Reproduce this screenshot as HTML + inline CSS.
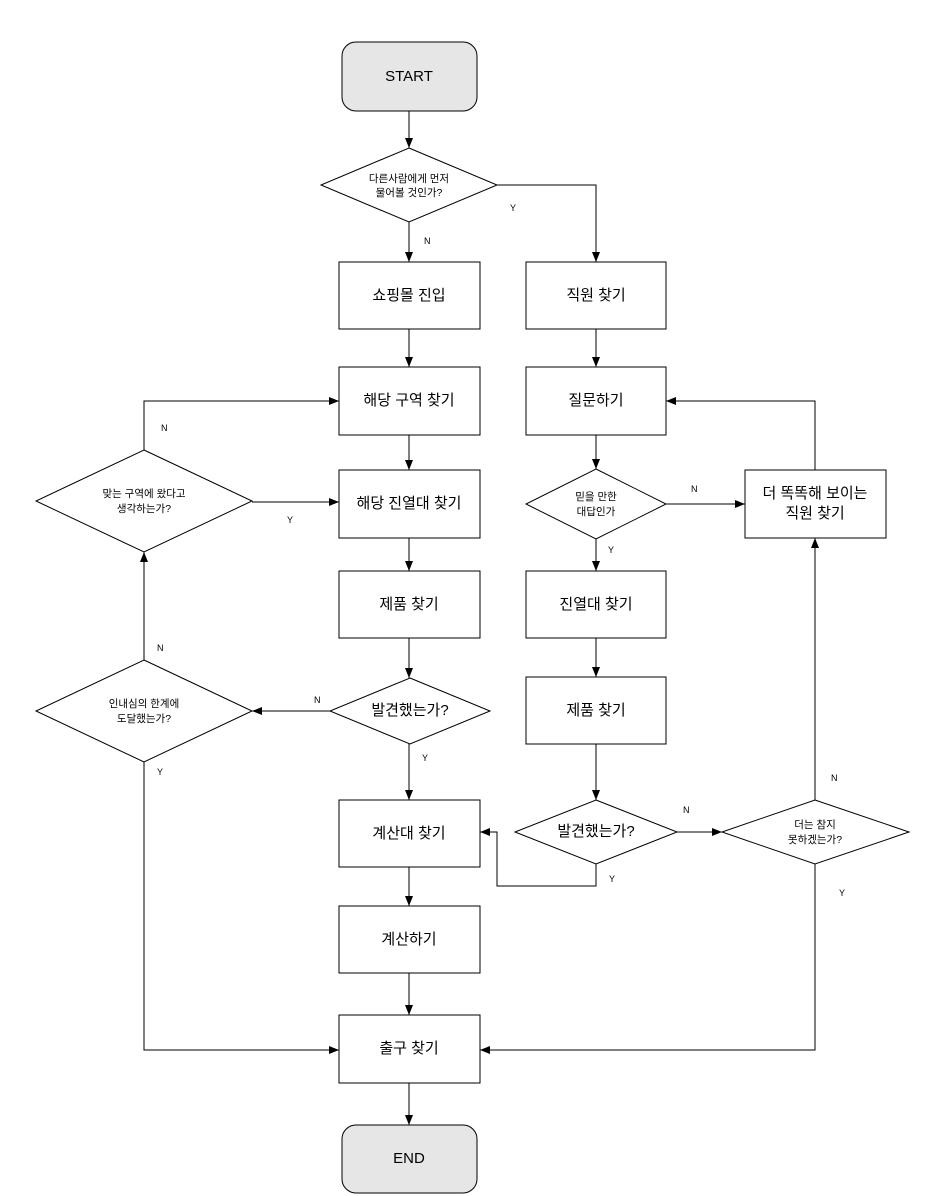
<!DOCTYPE html>
<html><head><meta charset="utf-8"><style>
html,body{margin:0;padding:0;background:#fff;}
svg{display:block;}
text{font-family:"Liberation Sans","Noto Sans CJK KR",sans-serif;fill:#000;}
.b{font-size:15px;text-anchor:middle;dominant-baseline:middle;}
.d{font-size:10.5px;text-anchor:middle;dominant-baseline:middle;}
.l{font-size:9px;}
</style></head><body>
<svg width="948" height="1196" viewBox="0 0 948 1196" xmlns="http://www.w3.org/2000/svg">
<defs><marker id="a" markerWidth="10" markerHeight="8" refX="10" refY="4" orient="auto" markerUnits="userSpaceOnUse"><path d="M0,0 L10,4 L0,8 z" fill="#000"/></marker></defs>
<g stroke="#000" stroke-width="1" fill="#fff">
<rect x="342" y="42" width="135" height="69" rx="14" fill="#e6e6e6"/>
<rect x="342" y="1125" width="135" height="68" rx="14" fill="#e6e6e6"/>
<polygon points="409,148 497,185 409,222 321,185"/>
<rect x="339" y="262" width="141" height="67"/>
<rect x="526" y="262" width="140" height="67"/>
<rect x="339" y="367" width="141" height="68"/>
<rect x="526" y="367" width="140" height="68"/>
<rect x="339" y="470" width="141" height="68"/>
<polygon points="144,450 252,501 144,552 36,501"/>
<polygon points="596,469 666,504 596,539 526,504"/>
<rect x="745" y="470" width="141" height="68"/>
<rect x="339" y="571" width="141" height="67"/>
<rect x="526" y="571" width="140" height="67"/>
<polygon points="410,678 490,711 410,744 330,711"/>
<polygon points="144,660 252,711 144,762 36,711"/>
<rect x="526" y="677" width="140" height="67"/>
<rect x="339" y="800" width="141" height="67"/>
<polygon points="596,800 677,832 596,864 515,832"/>
<polygon points="815,800 909,832 815,864 722,832"/>
<rect x="339" y="906" width="141" height="67"/>
<rect x="339" y="1015" width="141" height="68"/>
</g>
<g stroke="#000" stroke-width="1" fill="none" marker-end="url(#a)">
<path d="M409,111 V148"/>
<path d="M409,222 V262"/>
<path d="M497,185 H596 V262"/>
<path d="M409,329 V367"/>
<path d="M596,329 V367"/>
<path d="M409,435 V470"/>
<path d="M596,435 V469"/>
<path d="M144,450 V401 H339"/>
<path d="M252,502 H339"/>
<path d="M666,504 H745"/>
<path d="M815,470 V401 H666"/>
<path d="M409,538 V571"/>
<path d="M596,539 V571"/>
<path d="M409,638 V678"/>
<path d="M596,638 V677"/>
<path d="M330,711 H252"/>
<path d="M144,660 V552"/>
<path d="M144,762 V1050 H339"/>
<path d="M596,744 V800"/>
<path d="M409,744 V800"/>
<path d="M677,832 H722"/>
<path d="M596,864 V886 H497 V832 H480"/>
<path d="M815,800 V538"/>
<path d="M815,864 V1050 H480"/>
<path d="M409,867 V906"/>
<path d="M409,973 V1015"/>
<path d="M409,1083 V1125"/>
</g>
<text class="b" x="409" y="77">START</text>
<text class="b" x="409" y="1159">END</text>
<text class="d" x="409" y="179">다른사람에게 먼저</text>
<text class="d" x="409" y="193">물어볼 것인가?</text>
<text class="b" x="409" y="296">쇼핑몰 진입</text>
<text class="b" x="596" y="296">직원 찾기</text>
<text class="b" x="409" y="401">해당 구역 찾기</text>
<text class="b" x="596" y="401">질문하기</text>
<text class="b" x="409" y="504">해당 진열대 찾기</text>
<text class="d" x="144" y="494">맞는 구역에 왔다고</text>
<text class="d" x="144" y="509">생각하는가?</text>
<text class="d" x="596" y="497">믿을 만한</text>
<text class="d" x="596" y="512">대답인가</text>
<text class="b" x="815" y="494">더 똑똑해 보이는</text>
<text class="b" x="815" y="514">직원 찾기</text>
<text class="b" x="409" y="605">제품 찾기</text>
<text class="b" x="596" y="605">진열대 찾기</text>
<text class="b" x="410" y="711">발견했는가?</text>
<text class="d" x="144" y="704">인내심의 한계에</text>
<text class="d" x="144" y="719">도달했는가?</text>
<text class="b" x="596" y="711">제품 찾기</text>
<text class="b" x="409" y="834">계산대 찾기</text>
<text class="b" x="596" y="832">발견했는가?</text>
<text class="d" x="815" y="825">더는 참지</text>
<text class="d" x="815" y="840">못하겠는가?</text>
<text class="b" x="409" y="940">계산하기</text>
<text class="b" x="409" y="1049">출구 찾기</text>
<text class="l" x="424" y="244">N</text>
<text class="l" x="510" y="211">Y</text>
<text class="l" x="161" y="431">N</text>
<text class="l" x="287" y="523">Y</text>
<text class="l" x="691" y="492">N</text>
<text class="l" x="608" y="553">Y</text>
<text class="l" x="314" y="703">N</text>
<text class="l" x="157" y="651">N</text>
<text class="l" x="157" y="775">Y</text>
<text class="l" x="422" y="761">Y</text>
<text class="l" x="683" y="813">N</text>
<text class="l" x="609" y="882">Y</text>
<text class="l" x="831" y="781">N</text>
<text class="l" x="839" y="896">Y</text>
</svg>
</body></html>
